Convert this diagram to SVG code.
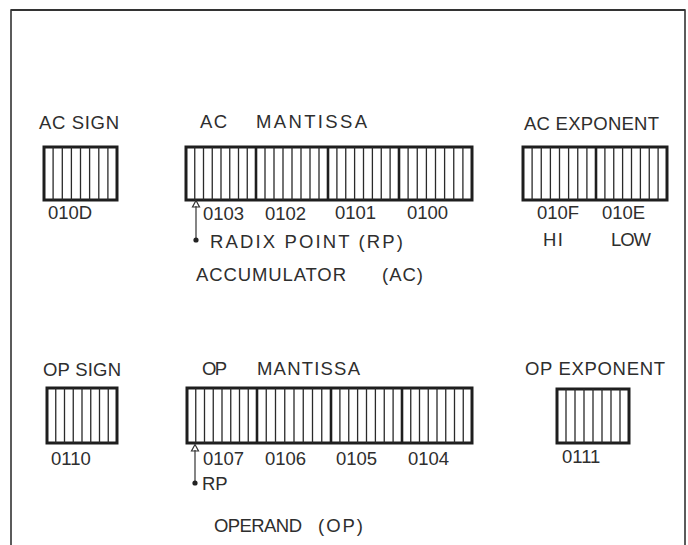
<svg xmlns="http://www.w3.org/2000/svg" width="688" height="545" viewBox="0 0 688 545">
<style>
text{font-family:"Liberation Sans",Arial,sans-serif;font-size:18.5px;fill:#2e2e2e;}
.box{fill:#fff;stroke:#1e1e1e;stroke-width:3;}
.hatch{fill:none;stroke:#2a2a2a;stroke-width:1.3;}
.div{fill:none;stroke:#1e1e1e;stroke-width:2.6;}
.frame{fill:none;stroke:#333;stroke-width:1.6;}
.conn{fill:none;stroke:#333;stroke-width:1.2;}
</style>
<rect x="0" y="0" width="688" height="545" fill="#fff"/>
<path class="frame" d="M11,545 V10 H685 V545"/>
<path d="M11,10 H685" stroke="#333" stroke-width="2.2" fill="none"/>

<g id="ac-sign">
<text x="39" y="129" textLength="80" lengthAdjust="spacing">AC SIGN</text>
<rect class="box" x="44" y="147" width="73" height="53"/>
<path class="hatch" d="M53.1,147V200M62.3,147V200M71.4,147V200M80.5,147V200M89.6,147V200M98.8,147V200M107.9,147V200"/>
<text x="48" y="219">010D</text>
</g>

<g id="ac-mantissa">
<text x="200" y="128" textLength="27" lengthAdjust="spacing">AC</text>
<text x="256" y="128" textLength="111" lengthAdjust="spacing">MANTISSA</text>
<rect class="box" x="186" y="147" width="286" height="53"/>
<path class="hatch" d="M194.75,147V200M203.5,147V200M212.25,147V200M221,147V200M229.75,147V200M238.5,147V200M247.25,147V200
M265,147V200M274,147V200M283,147V200M292,147V200M301,147V200M310,147V200M319,147V200
M336.9,147V200M345.75,147V200M354.6,147V200M363.5,147V200M372.4,147V200M381.25,147V200M390.1,147V200
M408.1,147V200M417.25,147V200M426.4,147V200M435.5,147V200M444.6,147V200M453.75,147V200M462.9,147V200"/>
<path class="div" d="M256,147V200M328,147V200M399,147V200"/>
<text x="203" y="220">0103</text>
<text x="265" y="220">0102</text>
<text x="335" y="219">0101</text>
<text x="407" y="219">0100</text>
<text x="210" y="248" textLength="193" lengthAdjust="spacing">RADIX POINT (RP)</text>
</g>

<g id="ac-exponent">
<text x="524" y="130" textLength="135" lengthAdjust="spacing">AC EXPONENT</text>
<rect class="box" x="523" y="147" width="144" height="53"/>
<path class="hatch" d="M532.1,147V200M541.25,147V200M550.4,147V200M559.5,147V200M568.6,147V200M577.75,147V200M586.9,147V200
M604.9,147V200M613.75,147V200M622.6,147V200M631.5,147V200M640.4,147V200M649.25,147V200M658.1,147V200"/>
<path class="div" d="M596,147V200"/>
<text x="537" y="219">010F</text>
<text x="602" y="219">010E</text>
<text x="543" y="246" textLength="20" lengthAdjust="spacing">HI</text>
<text x="611" y="246" textLength="40" lengthAdjust="spacing">LOW</text>
</g>

<g id="ac-title">
<text x="196" y="281" textLength="150" lengthAdjust="spacing">ACCUMULATOR</text>
<text x="382" y="281" textLength="41" lengthAdjust="spacing">(AC)</text>
</g>

<g id="op-sign">
<text x="43" y="376" textLength="78" lengthAdjust="spacing">OP SIGN</text>
<rect class="box" x="47" y="388" width="70" height="55"/>
<path class="hatch" d="M55.75,388V443M64.5,388V443M73.25,388V443M82,388V443M90.75,388V443M99.5,388V443M108.25,388V443"/>
<text x="51" y="465">0110</text>
</g>

<g id="op-mantissa">
<text x="202" y="375" textLength="25" lengthAdjust="spacing">OP</text>
<text x="257" y="375" textLength="103" lengthAdjust="spacing">MANTISSA</text>
<rect class="box" x="187" y="388" width="285" height="55"/>
<path class="hatch" d="M195.75,388V443M204.5,388V443M213.25,388V443M222,388V443M230.75,388V443M239.5,388V443M248.25,388V443
M266.25,388V443M275.5,388V443M284.75,388V443M294,388V443M303.25,388V443M312.5,388V443M321.75,388V443
M339.9,388V443M348.75,388V443M357.6,388V443M366.5,388V443M375.4,388V443M384.25,388V443M393.1,388V443
M410.75,388V443M419.5,388V443M428.25,388V443M437,388V443M445.75,388V443M454.5,388V443M463.25,388V443"/>
<path class="div" d="M257,388V443M331,388V443M402,388V443"/>
<text x="203" y="465">0107</text>
<text x="265" y="465">0106</text>
<text x="336" y="465">0105</text>
<text x="408" y="465">0104</text>
<text x="202" y="490">RP</text>
</g>

<g id="op-exponent">
<text x="525" y="375" textLength="140" lengthAdjust="spacing">OP EXPONENT</text>
<rect class="box" x="557" y="389" width="72" height="54"/>
<path class="hatch" d="M566,389V443M575,389V443M584,389V443M593,389V443M602,389V443M611,389V443M620,389V443"/>
<text x="562" y="463">0111</text>
</g>

<g id="op-title">
<text x="214" y="532" textLength="88" lengthAdjust="spacing">OPERAND</text>
<text x="318" y="532" textLength="45" lengthAdjust="spacing">(OP)</text>
</g>

<g id="connectors">
<path class="conn" d="M196,240V206"/>
<path class="conn" d="M196,200.5L192.5,207H199.5Z" fill="#fff"/>
<circle cx="196" cy="240" r="2.6" fill="#222"/>
<path class="conn" d="M195,483V450"/>
<path class="conn" d="M195,444.5L191.5,451H198.5Z" fill="#fff"/>
<circle cx="195" cy="483" r="2.6" fill="#222"/>
</g>
</svg>
